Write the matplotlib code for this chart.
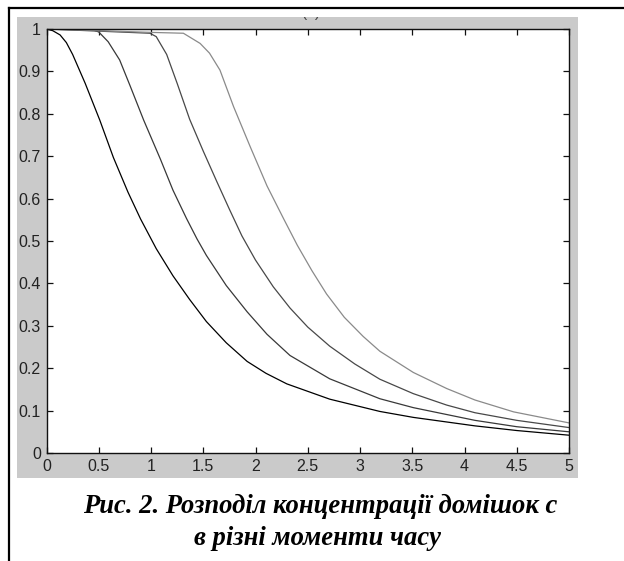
import matplotlib
matplotlib.use("Agg")
import matplotlib.pyplot as plt
from matplotlib.patches import Rectangle
from matplotlib.lines import Line2D

W, H = 624, 561

# ---- data ----
x1 = [0, 0.06, 0.13, 0.19, 0.25, 0.37, 0.51, 0.64, 0.78, 0.90, 1.05, 1.21, 1.37, 1.53, 1.72, 1.92, 2.10, 2.30, 2.71, 3.19, 3.51, 4.10, 4.50, 5.0]
c1 = [1.0, 0.996, 0.986, 0.968, 0.940, 0.872, 0.785, 0.697, 0.615, 0.552, 0.482, 0.418, 0.362, 0.310, 0.260, 0.216, 0.188, 0.163, 0.127, 0.098, 0.084, 0.064, 0.053, 0.042]

x2 = [0, 0.42, 0.50, 0.59, 0.70, 0.80, 0.93, 1.09, 1.21, 1.34, 1.44, 1.53, 1.72, 1.92, 2.11, 2.33, 2.71, 3.19, 3.51, 4.10, 4.50, 5.0]
c2 = [1.0, 1.0, 0.993, 0.970, 0.927, 0.866, 0.785, 0.693, 0.620, 0.553, 0.505, 0.466, 0.395, 0.333, 0.280, 0.230, 0.175, 0.128, 0.107, 0.077, 0.062, 0.050]

x3 = [0, 0.99, 1.05, 1.15, 1.25, 1.37, 1.50, 1.63, 1.75, 1.87, 2.00, 2.17, 2.33, 2.50, 2.71, 2.95, 3.19, 3.51, 3.83, 4.10, 4.50, 5.0]
c3 = [1.0, 0.990, 0.982, 0.940, 0.872, 0.787, 0.712, 0.640, 0.575, 0.512, 0.455, 0.392, 0.342, 0.297, 0.252, 0.210, 0.174, 0.140, 0.113, 0.095, 0.077, 0.060]

x4 = [0, 1.00, 1.31, 1.47, 1.56, 1.66, 1.79, 1.95, 2.11, 2.27, 2.40, 2.54, 2.68, 2.85, 3.03, 3.19, 3.51, 3.83, 4.10, 4.47, 5.0]
c4 = [1.0, 0.992, 0.990, 0.966, 0.943, 0.903, 0.817, 0.722, 0.630, 0.552, 0.490, 0.430, 0.375, 0.320, 0.275, 0.240, 0.190, 0.152, 0.125, 0.097, 0.071]

series = [(x1, c1, "#000000"), (x2, c2, "#383838"), (x3, c3, "#484848"), (x4, c4, "#8a8a8a")]

xticks = [0, 0.5, 1, 1.5, 2, 2.5, 3, 3.5, 4, 4.5, 5]
xticklabels = ["0", "0.5", "1", "1.5", "2", "2.5", "3", "3.5", "4", "4.5", "5"]
yticks = [0, 0.1, 0.2, 0.3, 0.4, 0.5, 0.6, 0.7, 0.8, 0.9, 1]
yticklabels = ["0", "0.1", "0.2", "0.3", "0.4", "0.5", "0.6", "0.7", "0.8", "0.9", "1"]

caption1 = "Рис. 2. Розподіл концентрації домішок c"
caption2 = "в різні моменти часу"
title = "(c)"

# ---- figure ----
fig = plt.figure(figsize=(W / 100, H / 100), dpi=100)
fig.patch.set_facecolor("white")

def fx(px):
    return px / W

def fy(py):
    return 1 - py / H

# gray MATLAB figure background
gray = Rectangle((fx(17), fy(478)), fx(578) - fx(17), fy(17) - fy(478),
                 transform=fig.transFigure, facecolor="#cacaca", edgecolor="none", zorder=0)
fig.add_artist(gray)

# outer frame lines (top and left)
fig.add_artist(Line2D([fx(9), fx(624)], [fy(8), fy(8)], transform=fig.transFigure,
                      color="black", lw=1.6))
fig.add_artist(Line2D([fx(9), fx(9)], [fy(8), fy(561)], transform=fig.transFigure,
                      color="black", lw=1.6))

left, right, top, bottom = 46.5, 569, 29, 453
ax = fig.add_axes([fx(left), fy(bottom), fx(right) - fx(left), fy(top) - fy(bottom)])
ax.set_facecolor("white")
ax.set_zorder(2)

for xs, cs, col in series:
    ax.plot(xs, cs, color=col, lw=0.9, solid_joinstyle="round")

ax.set_xlim(0, 5)
ax.set_ylim(0, 1)
ax.set_xticks(xticks)
ax.set_xticklabels(xticklabels)
ax.set_yticks(yticks)
ax.set_yticklabels(yticklabels)
for sp in ax.spines.values():
    sp.set_linewidth(1.0)
    sp.set_color("#111111")
ax.tick_params(direction="in", length=4, width=0.9, top=True, right=True,
               labelsize=11.5, colors="#111111", labelcolor="#222222")
ax.tick_params(axis="x", pad=4)
ax.tick_params(axis="y", pad=4)
for lab in ax.get_xticklabels() + ax.get_yticklabels():
    lab.set_family("Liberation Sans")

# title clipped by the top of the gray area
t = fig.text(fx(311), fy(16.8), title, ha="center", va="baseline", fontsize=11,
             family="Liberation Sans", color="#444444")
clip = Rectangle((fx(17), fy(478)), fx(578) - fx(17), fy(17) - fy(478), transform=fig.transFigure)
t.set_clip_path(clip)

# caption
fig.text(fx(320), fy(513), caption1, ha="center", va="baseline", fontsize=19.2,
         family="Liberation Serif", weight="bold", style="italic", color="black")
fig.text(fx(318), fy(545), caption2, ha="center", va="baseline", fontsize=19.2,
         family="Liberation Serif", weight="bold", style="italic", color="black")

fig.savefig("out.png", dpi=100)
